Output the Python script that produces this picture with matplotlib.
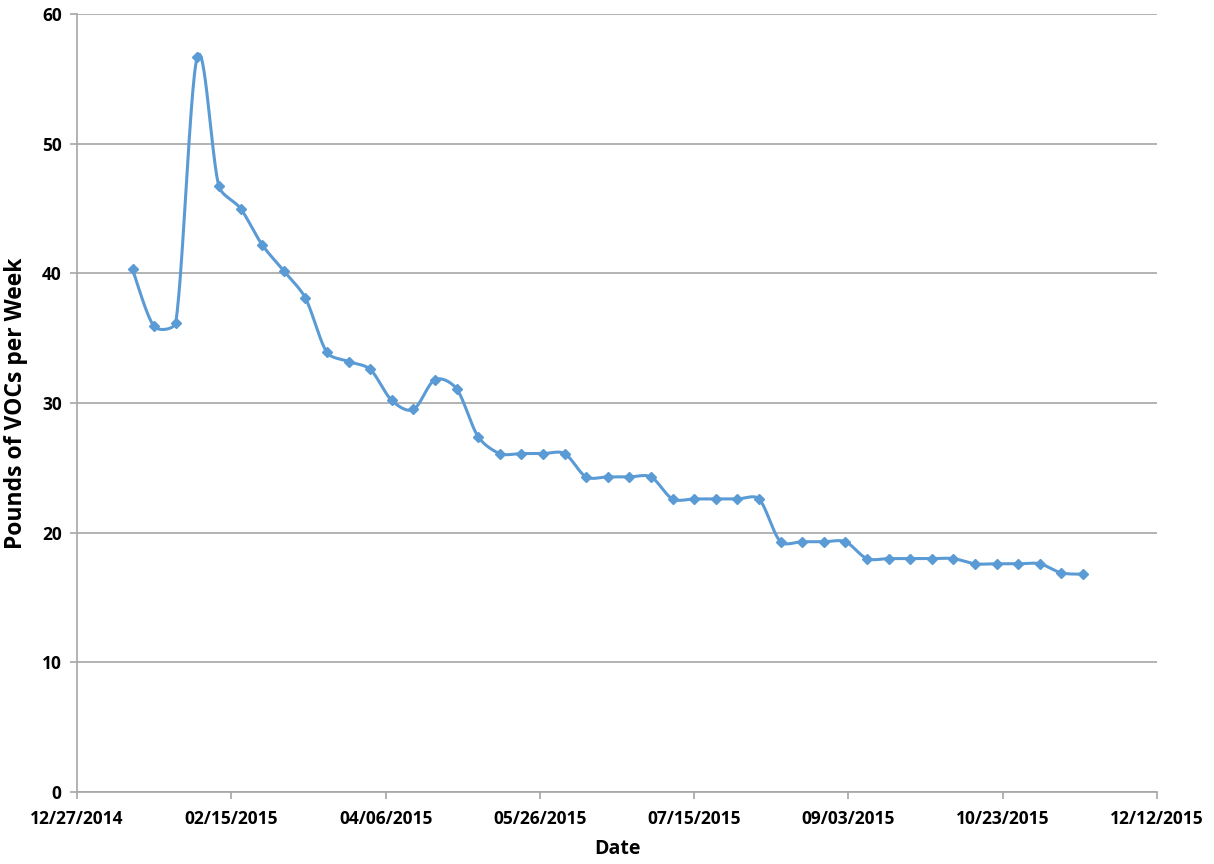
import numpy as np
import pandas as pd
import matplotlib
matplotlib.use("Agg")
import matplotlib.pyplot as plt
import matplotlib.dates as mdates

# weekly readings, pounds of VOCs per week
start_date = "2015-01-14"
vocs = [40.3, 35.9, 36.2, 56.7, 46.7, 45.0, 42.2, 40.2, 38.1, 33.9,
        33.2, 32.6, 30.2, 29.5, 31.8, 31.1, 27.4, 26.1, 26.1, 26.1,
        26.1, 24.3, 24.3, 24.3, 24.3, 22.6, 22.6, 22.6, 22.6, 22.6,
        19.3, 19.3, 19.3, 19.3, 18.0, 18.0, 18.0, 18.0, 18.0, 17.6,
        17.6, 17.6, 17.6, 16.9, 16.8]
dates = pd.date_range(start_date, periods=len(vocs), freq="7D")
tick_dates = pd.date_range("2014-12-27", "2015-12-12", freq="50D")

color = "#5b9bd5"
grid_col = "#a6a6a6"

x = mdates.date2num(dates)
y = np.array(vocs)

# Excel-style smoothed line: bezier through the points, control arms limited
# by segment length so short segments don't overshoot
sx = 350.0 / 1080.0
sy = 60.0 / 778.0
P = np.column_stack([x / sx, y / sy])
P = np.vstack([P[0], P, P[-1]])
curve = []
t = np.linspace(0, 1, 30)[:, None]

def arm(v, chord, k=0.32):
    n = np.hypot(*v)
    lim = k * chord
    return v * (lim / n) if n > lim else v

for i in range(1, len(P) - 2):
    p0, p1, p2, p3 = P[i - 1], P[i], P[i + 1], P[i + 2]
    chord = np.hypot(*(p2 - p1))
    c1 = p1 + arm((p2 - p0) / 6.0, chord)
    c2 = p2 - arm((p3 - p1) / 6.0, chord)
    seg = ((1 - t) ** 3) * p1 + 3 * ((1 - t) ** 2) * t * c1 + 3 * (1 - t) * t ** 2 * c2 + t ** 3 * p2
    curve.append(seg)
curve = np.vstack(curve)
cx, cy = curve[:, 0] * sx, curve[:, 1] * sy

plt.rcParams['font.family'] = ['Open Sans', 'DejaVu Sans']

fig = plt.figure(figsize=(12.14, 8.64), dpi=100)
ax = fig.add_axes([77 / 1214, 1 - 792 / 864, 1080 / 1214, 778 / 864])

ax.plot(cx, cy, color=color, lw=2.2, solid_capstyle="round", zorder=3)
ax.plot(x, y, ls="none", marker="D", ms=5, color=color, zorder=4)

ax.set_xlim(mdates.date2num(tick_dates[0]), mdates.date2num(tick_dates[-1]))
ax.set_ylim(0, 60)
ax.set_yticks(np.arange(0, 61, 10))
ax.set_xticks(mdates.date2num(tick_dates))
ax.set_xticklabels([d.strftime("%m/%d/%Y") for d in tick_dates])

ax.yaxis.grid(True, color=grid_col, lw=1.2)
ax.set_axisbelow(True)
for s in ["top", "right"]:
    ax.spines[s].set_visible(False)
for s in ["left", "bottom"]:
    ax.spines[s].set_color(grid_col)
    ax.spines[s].set_linewidth(1.2)
ax.tick_params(axis="both", colors=grid_col, length=5, width=1.2, labelcolor="black",
               labelsize=12.5)
for lab in ax.get_xticklabels() + ax.get_yticklabels():
    lab.set_fontweight("bold")
ax.tick_params(axis="x", pad=8)
ax.tick_params(axis="y", pad=6)

ax.set_xlabel("Date", fontsize=14, fontweight="bold", labelpad=8)
ax.set_ylabel("Pounds of VOCs per Week", fontsize=16.5, fontweight="bold", labelpad=10)

fig.savefig("out.png", dpi=100)
